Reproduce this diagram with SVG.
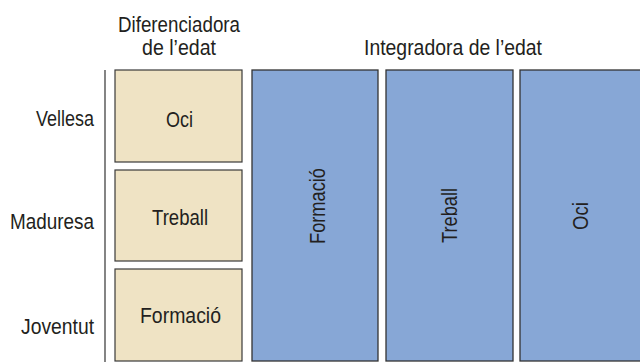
<svg xmlns="http://www.w3.org/2000/svg" width="640" height="362" viewBox="0 0 640 362">
<style>
text{font-family:"Liberation Sans",Arial,sans-serif;font-size:21.5px;fill:#231f20}
.b{fill:#efe3c4;stroke:#3a3a3a;stroke-width:1.2}
.u{fill:#87a7d6;stroke:#333;stroke-width:1.3}
.m{text-anchor:middle}
.e{text-anchor:end}
</style>
<rect width="640" height="362" fill="#fff"/>
<g id="headers">
<text class="m" x="179" y="31.5" textLength="122" lengthAdjust="spacingAndGlyphs">Diferenciadora</text>
<text class="m" x="179" y="54.5" textLength="74" lengthAdjust="spacingAndGlyphs">de l’edat</text>
<text class="m" x="453" y="54.5" textLength="178" lengthAdjust="spacingAndGlyphs">Integradora de l’edat</text>
</g>
<g id="axis-labels">
<text class="e" x="94" y="126" textLength="58" lengthAdjust="spacingAndGlyphs">Vellesa</text>
<text class="e" x="94" y="229" textLength="84" lengthAdjust="spacingAndGlyphs">Maduresa</text>
<text class="e" x="94" y="334" textLength="73" lengthAdjust="spacingAndGlyphs">Joventut</text>
</g>
<g id="connectors">
<line x1="105" y1="70" x2="105" y2="362" stroke="#333" stroke-width="1.2"/>
</g>
<g id="dif-oci">
<rect class="b" x="115" y="70" width="127" height="92"/>
<text class="m" x="179.5" y="127" textLength="27" lengthAdjust="spacingAndGlyphs">Oci</text>
</g>
<g id="dif-treball">
<rect class="b" x="115" y="170" width="127" height="91"/>
<text class="m" x="180" y="225" textLength="56" lengthAdjust="spacingAndGlyphs">Treball</text>
</g>
<g id="dif-formacio">
<rect class="b" x="115" y="269" width="127" height="92"/>
<text class="m" x="180.5" y="323" textLength="81" lengthAdjust="spacingAndGlyphs">Formació</text>
</g>
<g id="int-formacio">
<rect class="u" x="252" y="70" width="126" height="291"/>
<text class="m" transform="translate(325 206) rotate(-90)" textLength="76" lengthAdjust="spacingAndGlyphs">Formació</text>
</g>
<g id="int-treball">
<rect class="u" x="386" y="70" width="127" height="291"/>
<text class="m" transform="translate(457 215.5) rotate(-90)" textLength="55" lengthAdjust="spacingAndGlyphs">Treball</text>
</g>
<g id="int-oci">
<rect class="u" x="520" y="70" width="130" height="291"/>
<text class="m" transform="translate(588 216) rotate(-90)" textLength="28" lengthAdjust="spacingAndGlyphs">Oci</text>
</g>
</svg>
